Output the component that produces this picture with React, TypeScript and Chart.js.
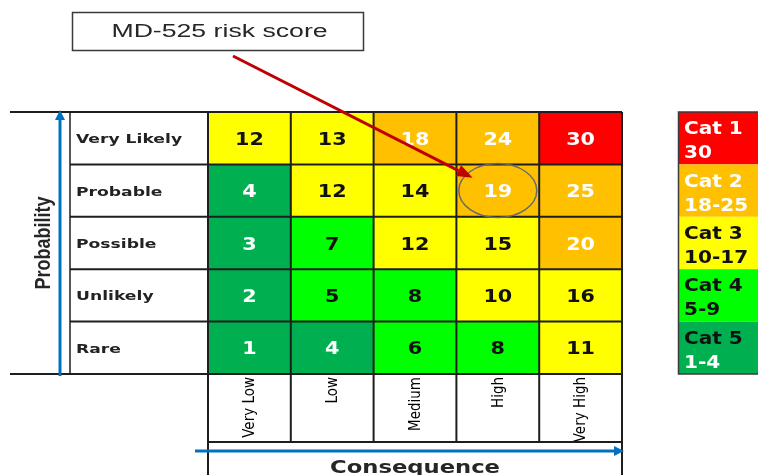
import React, { useEffect, useRef } from "react";
import { Chart, registerables } from "chart.js";

Chart.register(...registerables);

// Risk matrix data
const consequence = ["Very Low", "Low", "Medium", "High", "Very High"];
const probability = ["Very Likely", "Probable", "Possible", "Unlikely", "Rare"]; // top to bottom
const riskScores = [
  [12, 13, 18, 24, 30],
  [4, 12, 14, 19, 25],
  [3, 7, 12, 15, 20],
  [2, 5, 8, 10, 16],
  [1, 4, 6, 8, 11],
];
const categoryNames = ["Cat 1", "Cat 2", "Cat 3", "Cat 4", "Cat 5"];
const categoryRanges = ["30", "18-25", "10-17", "5-9", "1-4"];
const categoryFloor = [30, 18, 10, 5, 1];
const highlighted = { probability: "Probable", consequence: "High" };
const calloutText = "MD-525 risk score";

// Styling
const categoryColors = ["#FF0000", "#FFC000", "#FFFF00", "#00FF00", "#00B050"];
const cellTextColors = ["#FFFFFF", "#FFFFFF", "#111111", "#111111", "#FFFFFF"];
const legendTextColors = [
  ["#FFFFFF", "#FFFFFF"],
  ["#FFFFFF", "#FFFFFF"],
  ["#111111", "#111111"],
  ["#111111", "#111111"],
  ["#111111", "#FFFFFF"],
];
const LINE = "#1e1e1e";
const BLUE = "#0070C0";
const RED = "#C00000";
const BOLD_SANS = '"DejaVu Sans", Verdana, sans-serif';
const NARROW = '"Liberation Sans Narrow", "DejaVu Sans Condensed", "Liberation Sans", sans-serif';
const ARIAL = '"Liberation Sans", Arial, sans-serif';

const categoryOf = (score: number) => {
  const idx = categoryFloor.findIndex((f) => score >= f);
  return idx < 0 ? categoryFloor.length - 1 : idx;
};

function stretchText(
  ctx: CanvasRenderingContext2D,
  text: string,
  x: number,
  y: number,
  sx: number,
  align: CanvasTextAlign
) {
  ctx.save();
  ctx.translate(x, y);
  ctx.scale(sx, 1);
  ctx.textAlign = align;
  ctx.textBaseline = "alphabetic";
  ctx.fillText(text, 0, 0);
  ctx.restore();
}

function line(ctx: CanvasRenderingContext2D, x0: number, y0: number, x1: number, y1: number) {
  ctx.beginPath();
  ctx.moveTo(x0, y0);
  ctx.lineTo(x1, y1);
  ctx.stroke();
}

function arrow(
  ctx: CanvasRenderingContext2D,
  x0: number,
  y0: number,
  x1: number,
  y1: number,
  color: string,
  width: number,
  headLen: number,
  headWidth: number
) {
  const ang = Math.atan2(y1 - y0, x1 - x0);
  const bx = x1 - Math.cos(ang) * headLen;
  const by = y1 - Math.sin(ang) * headLen;
  ctx.save();
  ctx.strokeStyle = color;
  ctx.fillStyle = color;
  ctx.lineWidth = width;
  ctx.lineCap = "butt";
  line(ctx, x0, y0, bx, by);
  const nx = -Math.sin(ang) * (headWidth / 2);
  const ny = Math.cos(ang) * (headWidth / 2);
  ctx.beginPath();
  ctx.moveTo(x1, y1);
  ctx.lineTo(bx + nx, by + ny);
  ctx.lineTo(bx - nx, by - ny);
  ctx.closePath();
  ctx.fill();
  ctx.restore();
}

const riskTable = {
  id: "riskTable",
  afterDatasetsDraw(chart: any) {
    const { ctx, chartArea: a } = chart;
    const xs = chart.scales.x;
    const ys = chart.scales.y;
    const labelLeft = a.left - 138;
    const farLeft = 10;
    const headerBottom = a.bottom + 68;
    const H = chart.height;
    const colEdge = (j: number) => xs.getPixelForValue(j - 0.5);

    ctx.save();

    // Row labels column
    ctx.fillStyle = "#222222";
    ctx.font = `bold 13px ${BOLD_SANS}`;
    probability.forEach((p, r) => {
      const cy = ys.getPixelForValue(4.5 - r);
      stretchText(ctx, p, labelLeft + 6, cy + 5, 1.32, "left");
    });

    // Consequence headers (rotated)
    ctx.fillStyle = "#000000";
    ctx.font = `15px ${NARROW}`;
    consequence.forEach((c, j) => {
      const cx = xs.getPixelForValue(j);
      ctx.save();
      ctx.translate(cx + 1, a.bottom + 3);
      ctx.rotate(-Math.PI / 2);
      ctx.textAlign = "right";
      ctx.textBaseline = "middle";
      ctx.fillText(c, 0, 0);
      ctx.restore();
    });

    // Cell scores
    ctx.font = `bold 18px ${BOLD_SANS}`;
    chart.data.datasets.forEach((ds: any, d: number) => {
      const meta = chart.getDatasetMeta(d);
      meta.data.forEach((el: any, j: number) => {
        const score = ds.data[j].score;
        const { x, y } = el.getCenterPoint();
        ctx.fillStyle = cellTextColors[categoryOf(score)];
        stretchText(ctx, String(score), x, y + 6.5, 1.15, "center");
      });
    });

    // Table lines
    ctx.strokeStyle = LINE;
    ctx.lineWidth = 2;
    for (let k = 0; k <= probability.length; k++) {
      const yy = ys.getPixelForValue(k);
      const x0 = k === 0 || k === probability.length ? farLeft : labelLeft;
      line(ctx, x0, yy, a.right, yy);
    }
    for (let j = 0; j <= consequence.length; j++) {
      const xx = colEdge(j);
      const y1 = j === 0 || j === consequence.length ? H : headerBottom;
      line(ctx, xx, a.top, xx, y1);
    }
    line(ctx, a.left, headerBottom, a.right, headerBottom);
    ctx.lineWidth = 1.5;
    line(ctx, labelLeft, a.top, labelLeft, a.bottom);

    // Legend of categories
    const legLeft = 678;
    const legTop = ys.getPixelForValue(5);
    const legBottom = ys.getPixelForValue(0);
    categoryNames.forEach((name, c) => {
      const top = ys.getPixelForValue(5 - c);
      const bottom = ys.getPixelForValue(4 - c);
      ctx.fillStyle = categoryColors[c];
      ctx.fillRect(legLeft, top, chart.width - legLeft, bottom - top);
      const mid = (top + bottom) / 2;
      ctx.font = `bold 17px ${BOLD_SANS}`;
      ctx.fillStyle = legendTextColors[c][0];
      stretchText(ctx, name, legLeft + 6, mid - 4, 1.18, "left");
      ctx.fillStyle = legendTextColors[c][1];
      stretchText(ctx, categoryRanges[c], legLeft + 6, mid + 20, 1.18, "left");
    });
    ctx.strokeStyle = "#3a3a3a";
    ctx.lineWidth = 1.5;
    ctx.strokeRect(legLeft + 0.5, legTop, chart.width, legBottom - legTop);

    // Highlighted cell marker
    const hr = probability.indexOf(highlighted.probability);
    const hc = consequence.indexOf(highlighted.consequence);
    const hEl = chart.getDatasetMeta(hr).data[hc];
    const c = hEl.getCenterPoint();
    const rx = 39;
    const ry = 27;
    ctx.strokeStyle = "#6a6a6a";
    ctx.lineWidth = 1.5;
    ctx.beginPath();
    ctx.ellipse(c.x, c.y, rx, ry, 0, 0, Math.PI * 2);
    ctx.stroke();

    // Callout box
    const box = { x: 72, y: 12, w: 291, h: 38 };
    ctx.strokeStyle = "#3a3a3a";
    ctx.lineWidth = 1.5;
    ctx.strokeRect(box.x + 0.5, box.y + 0.5, box.w, box.h);
    ctx.fillStyle = "#262626";
    ctx.font = `18px ${ARIAL}`;
    stretchText(ctx, calloutText, box.x + box.w / 2 + 2, box.y + 25, 1.48, "center");

    // Callout arrow to the highlighted cell
    const sx = 233;
    const sy = 56;
    const dx = sx - c.x;
    const dy = sy - c.y;
    const k = 1 / Math.hypot(dx / rx, dy / ry);
    const tipX = c.x + dx * k * 0.8;
    const tipY = c.y + dy * k * 0.8;
    arrow(ctx, sx, sy, tipX, tipY, RED, 3, 16, 12);

    // Axis arrows
    arrow(ctx, a.left - 148, a.bottom + 2, a.left - 148, a.top - 2, BLUE, 3, 10, 10);
    arrow(ctx, a.left - 13, headerBottom + 9, a.right + 2, headerBottom + 9, BLUE, 3, 10, 10);

    // Axis titles
    ctx.fillStyle = "#262626";
    ctx.font = `bold 18px ${ARIAL}`;
    ctx.save();
    ctx.translate(50, (a.top + a.bottom) / 2);
    ctx.rotate(-Math.PI / 2);
    ctx.scale(1, 1.2);
    ctx.textAlign = "center";
    ctx.textBaseline = "alphabetic";
    ctx.fillText("Probability", 0, 0);
    ctx.restore();

    ctx.font = `bold 18px ${BOLD_SANS}`;
    stretchText(ctx, "Consequence", (a.left + a.right) / 2, H - 2, 1.26, "center");

    ctx.restore();
  },
};

export default function App() {
  const canvasRef = useRef<HTMLCanvasElement | null>(null);

  useEffect(() => {
    const canvas = canvasRef.current;
    if (!canvas) return;

    const datasets = probability.map((p, r) => ({
      label: p,
      data: consequence.map((c, j) => ({
        x: c,
        y: [probability.length - 1 - r, probability.length - r],
        score: riskScores[r][j],
      })),
      backgroundColor: riskScores[r].map((s) => categoryColors[categoryOf(s)]),
      borderWidth: 0,
      grouped: false,
      barPercentage: 1,
      categoryPercentage: 1,
    }));

    const chart = new Chart(canvas, {
      type: "bar",
      data: { labels: consequence, datasets: datasets as any },
      options: {
        animation: false,
        responsive: false,
        devicePixelRatio: 1,
        layout: { padding: { left: 208, right: 136, top: 112, bottom: 101 } },
        scales: {
          x: { type: "category", display: false, offset: true },
          y: { type: "linear", display: false, min: 0, max: probability.length },
        },
        plugins: { legend: { display: false }, tooltip: { enabled: false } },
      },
      plugins: [riskTable],
    });

    return () => chart.destroy();
  }, []);

  return (
    <div style={{ position: "fixed", left: 0, top: 0, width: 758, height: 475, background: "#ffffff" }}>
      <canvas ref={canvasRef} width={758} height={475} style={{ display: "block" }} />
    </div>
  );
}
